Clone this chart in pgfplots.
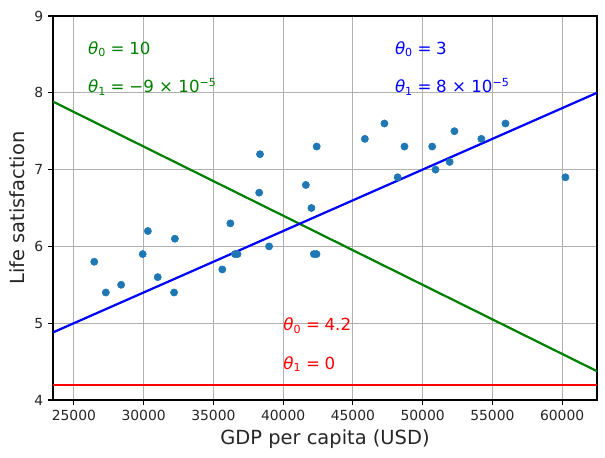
\documentclass[border=0pt]{standalone}
\usepackage{pgfplots}
\pgfplotsset{compat=1.18}
\usepackage{fontspec}
\setmainfont{DejaVu Sans}
\definecolor{mplblue}{RGB}{31,119,180}
\definecolor{mplgreen}{rgb}{0,0.5,0}
\definecolor{gridgray}{RGB}{176,176,176}
\newcommand{\thz}[1]{\textit{θ}\textsubscript{#1}\;=\;}
\begin{document}
\begin{tikzpicture}
  \begin{axis}[
    scale only axis,
    width=391.7pt, height=276.5pt,
    xmin=23500, xmax=62500,
    ymin=4, ymax=9,
    xtick={25000,30000,...,60000},
    ytick={4,5,...,9},
    scaled x ticks=false,
    /pgf/number format/assume math mode=true,
    xticklabel style={/pgf/number format/1000 sep={}},
    tick label style={font=\fontsize{10}{12}\selectfont, black!85},
    label style={font=\fontsize{14}{17}\selectfont, black!85},
    xlabel={GDP per capita (USD)},
    ylabel={Life satisfaction},
    tick align=outside,
    xtick pos=left, ytick pos=left,
    major tick length=3.5pt,
    every tick/.style={black, line width=0.8pt},
    axis line style={line width=0.8pt},
    grid=major,
    grid style={gridgray, line width=0.8pt},
    clip=true,
  ]
    \addplot[only marks, mark=*, mark size=2.6pt, mplblue] coordinates {
      (26456,5.8) (27287,5.4) (28385,5.5) (29932,5.9) (30300,6.2)
      (31008,5.6) (32181,5.4) (32238,6.1) (35638,5.7) (36215,6.3)
      (36548,5.9) (36732,5.9) (38341,7.2) (38280,6.7) (38992,6.0)
      (41627,6.8) (42026,6.5) (42404,7.3) (42200,5.9) (42390,5.9)
      (45857,7.4) (47260,7.6) (48210,6.9) (48698,7.3) (50683,7.3)
      (50922,7.0) (51935,7.1) (52279,7.5) (54209,7.4) (55938,7.6)
      (60236,6.9)
    };
    \addplot[red, line width=1.6pt] coordinates {(23500,4.2) (62500,4.2)};
    \addplot[mplgreen, line width=1.6pt] coordinates {(23500,7.885) (62500,4.375)};
    \addplot[blue, line width=1.6pt] coordinates {(23500,4.88) (62500,8.0)};
    \node[anchor=base west, inner sep=0pt, red, font=\fontsize{12}{14}\selectfont] at (axis cs:40000,4.9) {\thz{0}4.2};
    \node[anchor=base west, inner sep=0pt, red, font=\fontsize{12}{14}\selectfont] at (axis cs:40000,4.4) {\thz{1}0};
    \node[anchor=base west, inner sep=0pt, mplgreen, font=\fontsize{12}{14}\selectfont] at (axis cs:26000,8.5) {\thz{0}10};
    \node[anchor=base west, inner sep=0pt, mplgreen, font=\fontsize{12}{14}\selectfont] at (axis cs:26000,8.0) {\thz{1}−9 × 10\textsuperscript{−5}};
    \node[anchor=base west, inner sep=0pt, blue, font=\fontsize{12}{14}\selectfont] at (axis cs:48000,8.5) {\thz{0}3};
    \node[anchor=base west, inner sep=0pt, blue, font=\fontsize{12}{14}\selectfont] at (axis cs:48000,8.0) {\thz{1}8 × 10\textsuperscript{−5}};
    \coordinate (sw) at (rel axis cs:0,0);
    \coordinate (ne) at (rel axis cs:1,1);
  \end{axis}
  \pgfresetboundingbox
  \path ([shift={(-38.16pt,-41.76pt)}]sw) rectangle ([shift={(5.76pt,11.52pt)}]ne);
\end{tikzpicture}
\end{document}
